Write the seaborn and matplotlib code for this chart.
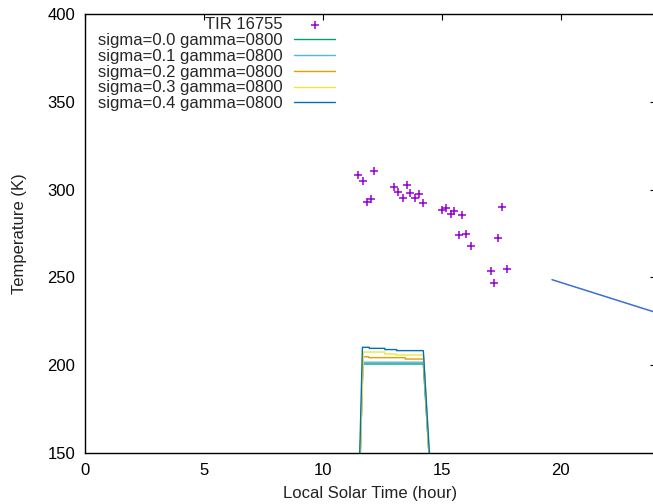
import matplotlib
matplotlib.use("Agg")
import matplotlib.pyplot as plt
import seaborn as sns

# ---- data ----
tir_time = [11.48, 12.16, 11.67, 11.86, 12.02, 13.00, 13.16, 13.53, 13.67, 13.35,
            13.85, 14.03, 14.20, 15.00, 15.18, 15.37, 15.53, 15.85, 17.53, 15.71,
            16.02, 16.21, 17.37, 17.05, 17.72, 17.17]
tir_temp = [308.3, 310.8, 304.7, 292.8, 294.6, 301.3, 298.6, 302.4, 298.2, 295.0,
            295.2, 297.5, 292.5, 288.4, 289.7, 286.1, 288.0, 285.4, 290.3, 274.0,
            274.7, 267.9, 272.6, 253.6, 254.8, 246.6]

s00_time = [11.55, 11.68, 14.22, 14.50]
s00_temp = [140.0, 200.7, 200.7, 140.0]

s01_time = [11.55, 11.68, 14.22, 14.50]
s01_temp = [140.0, 201.7, 201.7, 140.0]

s02_time = [11.55, 11.69, 11.92, 11.92, 13.46, 13.46, 14.23, 14.50]
s02_temp = [140.0, 204.8, 204.8, 204.3, 204.3, 203.5, 203.5, 140.0]

s03_time = [11.55, 11.70, 12.60, 12.60, 13.07, 13.07, 14.23, 14.50]
s03_temp = [140.0, 207.5, 207.5, 206.4, 206.4, 205.8, 205.8, 140.0]

s04_time = [11.53, 11.66, 11.95, 11.95, 12.60, 12.60, 13.10, 13.10, 14.22, 14.52]
s04_temp = [140.0, 210.2, 210.2, 209.6, 209.6, 208.9, 208.9, 208.3, 208.3, 140.0]

night_time = [19.63, 24.0]
night_temp = [248.7, 230.0]

series_labels = ["sigma=0.0 gamma=0800", "sigma=0.1 gamma=0800",
                 "sigma=0.2 gamma=0800", "sigma=0.3 gamma=0800",
                 "sigma=0.4 gamma=0800"]
series_colors = ["#009e73", "#56b4e9", "#e69f00", "#f0e442", "#0072b2"]

x_ticks = [0, 5, 10, 15, 20]
y_ticks = [150, 200, 250, 300, 350, 400]

# ---- style ----
sns.set_theme(style="white")
plt.rcParams["font.family"] = ["Liberation Sans", "DejaVu Sans"]
plt.rcParams["axes.edgecolor"] = "black"
plt.rcParams["axes.linewidth"] = 1.0

W, H = 653, 504
fig = plt.figure(figsize=(W / 100, H / 100), dpi=100)
ax = fig.add_axes([85 / W, 1 - 453 / H, (656 - 85) / W, (453 - 14) / H])

sns.scatterplot(x=tir_time, y=tir_temp, marker="+", color="#9400d3", s=40,
                linewidth=1.1, ax=ax, label="TIR 16755")

all_series = [(s00_time, s00_temp), (s01_time, s01_temp), (s02_time, s02_temp),
              (s03_time, s03_temp), (s04_time, s04_temp)]
for (t, T), lab, col in zip(all_series, series_labels, series_colors):
    sns.lineplot(x=t, y=T, sort=False, estimator=None, color=col, lw=1.0,
                 ax=ax, label=lab)

sns.lineplot(x=night_time, y=night_temp, sort=False, estimator=None,
             color="#3a70d0", lw=1.1, ax=ax, legend=False)

ax.set_xlim(0, 24)
ax.set_ylim(150, 400)
ax.set_xticks(x_ticks)
ax.set_yticks(y_ticks)
ax.tick_params(which="both", direction="in", top=True, right=True, length=4,
               width=0.8, pad=7, labelsize=12, colors="black")
ax.set_xlabel("Local Solar Time (hour)", fontsize=12, color="#222222", labelpad=6)
ax.set_ylabel("Temperature (K)", fontsize=12, color="#222222", labelpad=15)

handles, labels = ax.get_legend_handles_labels()
ax.legend(handles, labels, loc="upper right",
          bbox_to_anchor=(335 / W, 1 - 17 / H), bbox_transform=fig.transFigure,
          frameon=False, markerfirst=False, handlelength=2.46,
          handletextpad=0.7, labelspacing=0.05, borderpad=0, borderaxespad=0,
          fontsize=12)

fig.savefig("out.png", dpi=100)
